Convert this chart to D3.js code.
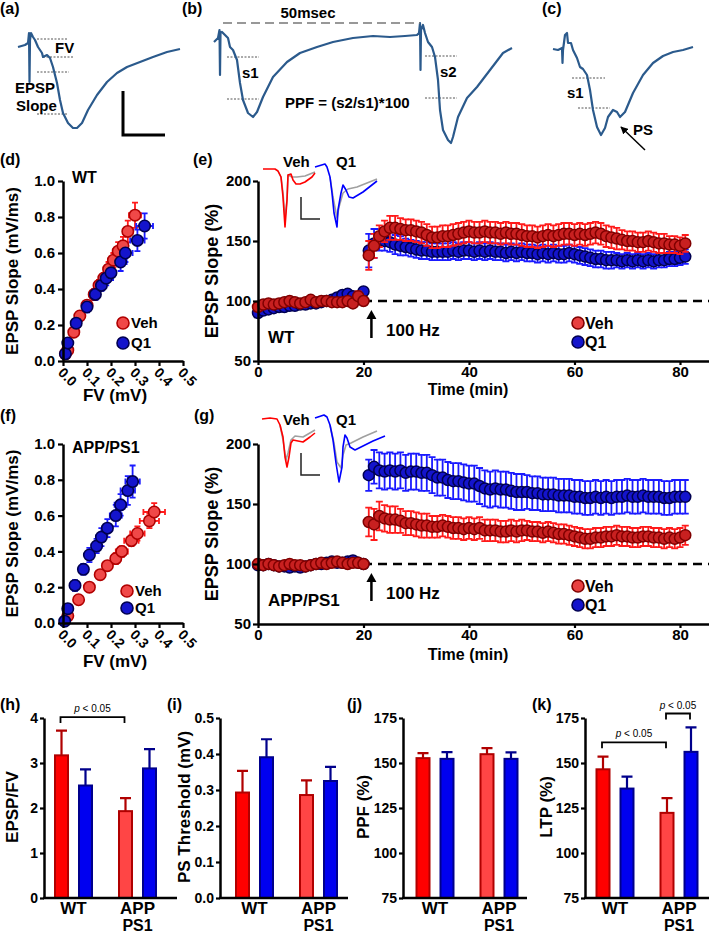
<!DOCTYPE html>
<html><head><meta charset="utf-8">
<script src="https://cdn.jsdelivr.net/npm/d3@7/dist/d3.min.js"></script>
<style>
html,body{margin:0;padding:0;background:#fff;}
svg text{font-family:"Liberation Sans",Arial,Helvetica,sans-serif;font-weight:bold;fill:#000;}
svg text.pval{font-weight:normal;}
</style></head><body>
<svg id="fig" width="709" height="936" viewBox="0 0 709 936"></svg>
<script>
// ================= DATA =================
// Example field-potential traces (time offset, amplitude offset; arbitrary units)
const traceA = [[0,0],[7,2],[10,4],[11,14],[11.5,-35],[12,7],[13,14],[15,10],[17,7],[20,0],[24,-6],[25,-10],[29,-8],[32,-11],[35,-20],[39,-36],[42,-53],[45,-66],[50,-76],[55,-81],[59,-81],[64,-76],[70,-63],[79,-48],[89,-35],[99,-26],[109,-20],[122,-15],[135,-10],[149,-5],[162,-2]];
const traceB = [[0,0],[4,4],[5.5,12],[6,-33],[6.5,9],[8,10],[11,7],[14,4],[16,-5],[19,-8],[23,-18],[26,-41],[29,-58],[34,-71],[39,-75],[43,-70],[49,-55],[59,-35],[73,-20],[86,-11],[103,-5],[119,0],[139,4],[159,6],[176,5],[191,6],[203,7],[205,9],[206,19],[206.5,-28],[207,12],[209,17],[211,9],[214,0],[218,-5],[221,-15],[224,-38],[226,-68],[229,-88],[234,-98],[237,-101],[239,-95],[244,-75],[253,-56],[263,-45],[276,-28],[289,-11],[298,-6]];
const traceC = [[0,0],[5,-1],[9,1],[9.5,-14],[10,-1],[12,14],[14,16],[15,6],[18,6],[20,-1],[24,-9],[27,-18],[30,-20],[34,-26],[37,-41],[40,-61],[44,-78],[48,-86],[52,-79],[55,-68],[60,-61],[64,-63],[67,-68],[72,-63],[80,-44],[90,-26],[100,-14],[110,-7],[120,-3],[130,-1],[140,2]];
// guide lines [t1, t2, amplitude]
const guidesA = [[19,50,8],[25,56,-10],[19,51,-25],[19,50,-67]];
const guidesB = [[13,45,-15],[13,45,-57],[211,243,-14],[211,243,-56]];
const guidesC = [[19,52,-29],[25,57,-59]];

// Inset traces (LTP panels): before (grey) and after (colour)
const insetWT_VehAfter = [[5,0],[17,0],[20,-2],[23,-8],[25,-28],[27,-58],[29,-31],[30,-6],[33,-5],[35,-11],[38,-15],[42,-15],[47,-13],[54,-8],[57,-4]];
const insetWT_VehBefore = [[20,-2],[23,-8],[25,-24],[27,-49],[29,-31],[30,-6],[34,-8],[39,-8],[47,-7],[57,-3]];
const insetWT_Q1After = [[57,2],[67,5],[69,2],[72,-8],[74,-24],[76,-44],[79,-58],[80,-41],[83,-24],[85,-16],[88,-21],[91,-28],[95,-29],[105,-23],[119,-12]];
const insetWT_Q1Before = [[72,-8],[75,-28],[79,-49],[81,-38],[85,-24],[90,-20],[99,-18],[109,-14],[119,-10]];
const insetAPP_VehAfter = [[4,0],[12,1],[19,0],[22,-6],[25,-18],[27,-38],[29,-48],[31,-38],[33,-24],[35,-21],[40,-22],[45,-23],[52,-18],[57,-14]];
const insetAPP_VehBefore = [[22,-6],[25,-21],[28,-41],[30,-34],[33,-21],[37,-17],[45,-18],[57,-11]];
const insetAPP_Q1After = [[57,1],[66,4],[69,2],[72,-6],[75,-21],[78,-44],[81,-63],[84,-48],[85,-28],[87,-16],[89,-19],[92,-28],[97,-31],[105,-27],[115,-22],[127,-17]];
const insetAPP_Q1Before = [[72,-6],[76,-24],[79,-43],[83,-49],[85,-36],[88,-26],[93,-24],[105,-18],[119,-12]];

// Input-output (FV vs EPSP slope)
const wtVehFV   = [0.01,0.02,0.045,0.07,0.10,0.13,0.15,0.17,0.19,0.21,0.23,0.25,0.27,0.30];
const wtVehEPSP = [0.04,0.06,0.16,0.25,0.31,0.37,0.42,0.46,0.51,0.56,0.61,0.64,0.72,0.81];
const wtVehFVerr   = [0.005,0.005,0.01,0.01,0.01,0.015,0.015,0.015,0.02,0.02,0.02,0.02,0.02,0.025];
const wtVehEPSPerr = [0.01,0.01,0.02,0.02,0.02,0.03,0.03,0.03,0.04,0.04,0.05,0.05,0.06,0.07];
const wtQ1FV   = [0.01,0.02,0.055,0.10,0.135,0.16,0.18,0.20,0.24,0.26,0.31,0.34];
const wtQ1EPSP = [0.04,0.10,0.21,0.30,0.37,0.42,0.46,0.49,0.55,0.60,0.67,0.75];
const wtQ1FVerr   = [0.005,0.01,0.01,0.015,0.015,0.02,0.02,0.02,0.025,0.03,0.03,0.035];
const wtQ1EPSPerr = [0.01,0.02,0.02,0.03,0.03,0.03,0.04,0.04,0.05,0.05,0.06,0.07];
const appVehFV   = [0.02,0.065,0.11,0.155,0.185,0.22,0.245,0.285,0.31,0.36,0.38];
const appVehEPSP = [0.04,0.13,0.20,0.27,0.32,0.36,0.40,0.46,0.50,0.57,0.62];
const appVehFVerr   = [0.005,0.01,0.01,0.015,0.02,0.02,0.025,0.03,0.03,0.04,0.045];
const appVehEPSPerr = [0.01,0.01,0.02,0.02,0.02,0.03,0.03,0.03,0.04,0.04,0.05];
const appQ1FV   = [0.007,0.02,0.05,0.085,0.11,0.14,0.16,0.185,0.22,0.24,0.27,0.29];
const appQ1EPSP = [0.01,0.08,0.21,0.30,0.38,0.43,0.48,0.53,0.60,0.66,0.74,0.79];
const appQ1FVerr   = [0.005,0.01,0.01,0.015,0.015,0.02,0.02,0.02,0.025,0.025,0.03,0.03];
const appQ1EPSPerr = [0.01,0.02,0.03,0.03,0.04,0.04,0.05,0.05,0.06,0.06,0.08,0.09];

// LTP time courses (min, %)
const tBase = [0,1,2,3,4,5,6,7,8,9,10,11,12,13,14,15,16,17,18,19,20];
const tPost = [21,22,23,24,25,26,27,28,29,30,31,32,33,34,35,36,37,38,39,40,41,42,43,44,45,46,47,48,49,50,51,52,53,54,55,56,57,58,59,60,61,62,63,64,65,66,67,68,69,70,71,72,73,74,75,76,77,78,79,80,81];
const wtVehBase = [95,97,98,97,98,99,100,99,98,99,101,99,100,100,99,99,99,100,98,104,100];
const wtVehBaseErr = [3,3,2,2,2,2,2,2,2,2,2,2,2,2,2,2,2,2,3,4,3];
const wtQ1Base = [90,92,93,94,95,95,96,96,97,97,98,98,99,100,101,103,105,106,104,103,108];
const wtQ1BaseErr = [3,3,3,3,3,3,2,2,2,2,2,2,2,2,2,2,3,3,3,3,3];
const wtVehPost = [138,146,154,158,161,161,160,159,159,158,157,155, 153,153,154,154,155,156,157,158, 157,157,158,157,157,156,157,156,156,155, 154,154,153,154,155,154,155,156,156,155, 156,155,156,157,156,154,153,152,151,150, 150,149,149,150,149,148,148,147,147,146,148];
const wtVehPostErr = [12,10,9,9,10,10,9,9,9,9,9,9, 9,9,9,9,9,9,9,9, 9,9,9,9,9,9,9,9,9,9, 9,9,9,9,9,9,9,9,9,9, 9,9,9,9,9,9,9,9,8,8, 8,8,8,8,8,8,8,7,7,7,7];
const wtQ1Post = [142,148,151,150,149,147,146,145,144,143,142,142, 141,141,141,141,142,141,142,142, 141,142,141,142,141,141,140,141,140,141, 140,140,139,140,139,140,139,139,140,139, 138,137,136,135,135,134,134,134,133,134, 133,134,133,134,133,134,134,135,135,136,137];
const wtQ1PostErr = [14,12,9,8,8,8,8,7,7,7,7,7, 7,7,7,7,7,7,7,7, 7,7,7,7,7,7,7,7,7,7, 7,7,7,7,7,7,7,7,7,7, 7,7,7,7,7,7,7,6,6,6, 6,6,6,6,6,6,6,6,6,6,6];
const appVehBase = [100,99,100,99,98,99,100,99,99,98,99,100,101,100,101,102,101,100,101,101,100];
const appVehBaseErr = [2,2,2,2,2,2,2,2,2,2,2,2,2,2,2,2,2,2,2,2,2];
const appQ1Base = [99,99,100,99,98,98,97,98,97,98,99,100,100,101,102,101,101,102,103,101,100];
const appQ1BaseErr = [2,2,2,2,2,2,2,2,2,2,2,2,2,2,2,2,2,2,2,2,2];
const appQ1Post = [174,181,178,177,178,177,178,176,177,177,176,176, 174,172,172,170,169,169,168,167, 167,165,163,162,163,162,162,161,160,160, 160,159,159,158,158,158,157,157,157,156, 156,155,155,156,155,156,155,156,156,157, 156,156,157,156,156,156,155,155,156,156,156];
const appQ1PostErr = [13,14,15,15,15,15,15,15,15,15,15,15, 15,15,15,15,15,15,15,15, 15,15,15,15,15,15,15,15,15,15, 14,14,14,14,14,14,14,14,14,14, 14,14,14,14,14,14,14,14,14,14, 14,14,14,14,14,14,14,14,14,14,14];
const appVehPost = [135,133,140,138,137,137,136,134,134,133,132,132, 131,131,132,131,130,130,129,130, 129,130,128,128,128,127,127,128,127,128, 128,127,127,126,127,126,125,125,124,123, 122,121,121,122,122,123,123,124,123,123, 122,122,123,123,122,122,121,122,121,122,124];
const appVehPostErr = [12,13,12,11,11,11,10,10,10,10,10,10, 9,9,9,9,9,9,9,9, 9,9,9,9,9,9,9,9,9,9, 8,8,8,8,8,8,8,8,8,8, 8,8,8,8,8,8,8,8,8,8, 8,8,8,8,8,8,8,8,8,8,8];

// Summary bar charts
const groups = ["WT","APP"];
const treatments = ["Veh","Q1"];
const epspFV = [3.17,2.50,1.93,2.88];      const epspFVErr = [0.55,0.36,0.29,0.43];
const psThr  = [0.293,0.391,0.286,0.325];  const psThrErr  = [0.06,0.05,0.041,0.039];
const ppf    = [152.7,152.3,154.9,152.3];  const ppfErr    = [2.8,3.7,3.4,3.6];
const ltp    = [146.5,135.8,122.3,156.2];  const ltpErr    = [7.0,6.6,8.2,13.6];
const tickH = [0,1,2,3,4];
const tickI = [0,0.1,0.2,0.3,0.4,0.5];
const tickJK = [75,100,125,150,175];
const tickFV = [0,0.1,0.2,0.3,0.4,0.5];
const tickEPSP = [0,0.2,0.4,0.6,0.8,1.0];
const tickPct = [50,100,150,200];
const tickTime = [0,20,40,60,80];

// ================= DRAWING =================
const svg = d3.select("#fig");
const TRACE = "#2b5a8c";
const VEH_FILL="#c82020", VEH_STROKE="#800000", Q1_FILL="#1414cc", Q1_STROKE="#000050";
const VEH_ERR="#ff1a1a", Q1_ERR="#1a1aff";

function text(x,y,s,size,anchor){ return svg.append("text").attr("x",x).attr("y",y).attr("font-size",size).attr("text-anchor",anchor||"start").text(s); }
function vtext(x,y,s,size){ return svg.append("text").attr("transform",`translate(${x},${y}) rotate(-90)`).attr("text-anchor","middle").attr("font-size",size).text(s); }
function styleAxis(g,fs){
  g.attr("font-size",fs).attr("font-family",null);
  g.select(".domain").attr("stroke","#000").attr("stroke-width",2.5);
  g.selectAll(".tick line").attr("stroke","#000").attr("stroke-width",2.2);
  g.selectAll(".tick text").attr("fill","#000");
}

// ---- traces (a)-(c)
function traceScales(x0,y0){
  return {x:d3.scaleLinear().domain([0,100]).range([x0,x0+100]), y:d3.scaleLinear().domain([0,100]).range([y0,y0-100])};
}
function drawTrace(pts,sc,color,w){
  svg.append("path").datum(pts).attr("d",d3.line().x(d=>sc.x(d[0])).y(d=>sc.y(d[1])))
    .attr("fill","none").attr("stroke",color).attr("stroke-width",w).attr("stroke-linejoin","round");
}
function drawGuides(gs,sc){
  gs.forEach(g=>svg.append("line").attr("x1",sc.x(g[0])).attr("x2",sc.x(g[1])).attr("y1",sc.y(g[2])).attr("y2",sc.y(g[2]))
    .attr("stroke","#555").attr("stroke-width",1).attr("stroke-dasharray","2,1.5"));
}
const scA = traceScales(18,47), scB = traceScales(214,42), scC = traceScales(553,49);
drawGuides(guidesA,scA); drawGuides(guidesB,scB); drawGuides(guidesC,scC);
drawTrace(traceA,scA,TRACE,2.2); drawTrace(traceB,scB,TRACE,2.2); drawTrace(traceC,scC,TRACE,2.2);
text(0,14,"(a)",16); text(182,14,"(b)",16); text(542,14,"(c)",16);
text(55,53,"FV",15); text(15,93,"EPSP",15); text(16,111,"Slope",15);
// scale bar (a)
svg.append("path").attr("d",`M${scA.x(105)},${scA.y(-44)}V${scA.y(-88)}H${scA.x(147)}`).attr("fill","none").attr("stroke","#000").attr("stroke-width",3);
// 50 msec dashed
svg.append("line").attr("x1",scB.x(9)).attr("x2",scB.x(206)).attr("y1",23).attr("y2",23).attr("stroke","#777").attr("stroke-width",1.5).attr("stroke-dasharray","9,5");
text(308,18,"50msec",15,"middle");
text(242,78,"s1",15); text(440,77,"s2",15);
text(285,108,"PPF = (s2/s1)*100",15);
text(567,98,"s1",15); text(633,135,"PS",15);
// PS arrow
svg.append("defs").html('<marker id="ah" viewBox="0 0 10 10" refX="9" refY="5" markerWidth="5" markerHeight="5" orient="auto"><path d="M0,0L10,5L0,10z" fill="#000"/></marker>');
svg.append("line").attr("x1",645).attr("y1",150).attr("x2",621).attr("y2",127).attr("stroke","#000").attr("stroke-width",1.5).attr("marker-end","url(#ah)");

// ---- scatter (d),(f)
function scatterPanel(o){
  const x=d3.scaleLinear().domain([0,0.5]).range([63,183]);
  const y=d3.scaleLinear().domain([0,1]).range([o.yb,o.yt]);
  const series=[
    {fv:o.vehFV,ep:o.vehEP,fe:o.vehFE,ee:o.vehEE,fill:"#f04848",stroke:"#b00000",err:VEH_ERR},
    {fv:o.q1FV,ep:o.q1EP,fe:o.q1FE,ee:o.q1EE,fill:Q1_FILL,stroke:Q1_STROKE,err:Q1_ERR}];
  series.forEach(s=>{
    const g=svg.append("g").attr("stroke",s.err).attr("stroke-width",1.8).attr("fill","none");
    s.fv.forEach((f,i)=>{
      const cx=x(f), cy=y(s.ep[i]), x1=x(f-s.fe[i]), x2=x(f+s.fe[i]), y1=y(s.ep[i]-s.ee[i]), y2=y(s.ep[i]+s.ee[i]);
      g.append("path").attr("d",`M${x1},${cy}H${x2}M${x1},${cy-3}V${cy+3}M${x2},${cy-3}V${cy+3}M${cx},${y1}V${y2}M${cx-3},${y1}H${cx+3}M${cx-3},${y2}H${cx+3}`);
    });
  });
  series.forEach(s=>{
    svg.append("g").selectAll("circle").data(s.fv).join("circle")
      .attr("cx",d=>x(d)).attr("cy",(d,i)=>y(s.ep[i])).attr("r",5.7)
      .attr("fill",s.fill).attr("stroke",s.stroke).attr("stroke-width",1.6);
  });
  const ya=svg.append("g").attr("transform","translate(63,0)")
    .call(d3.axisLeft(y).tickValues(tickEPSP).tickFormat(d3.format(".1f")).tickSize(5).tickSizeOuter(0).tickPadding(3));
  styleAxis(ya,15);
  const xa=svg.append("g").attr("transform",`translate(0,${o.yb})`)
    .call(d3.axisBottom(x).tickValues(tickFV).tickFormat(d3.format(".1f")).tickSize(5).tickSizeOuter(0));
  styleAxis(xa,14);
  xa.selectAll(".tick text").attr("y",0).attr("dy","0.35em").attr("text-anchor","middle").attr("transform","translate(4,16) rotate(45)");
  text(115,o.yb+o.titleOff,"FV (mV)",17,"middle");
  vtext(18,(o.yb+o.yt)/2,"EPSP Slope (mV/ms)",17);
  text(72,o.yt+o.nameOff,o.name,16);
  // legend
  svg.append("circle").attr("cx",o.lx).attr("cy",o.ly1).attr("r",6).attr("fill","#f04848").attr("stroke","#b00000").attr("stroke-width",1.6);
  svg.append("circle").attr("cx",o.lx).attr("cy",o.ly2).attr("r",6).attr("fill",Q1_FILL).attr("stroke",Q1_STROKE).attr("stroke-width",1.6);
  text(o.lx+8,o.ly1+5,"Veh",15); text(o.lx+8,o.ly2+5,"Q1",15);
}
scatterPanel({yb:361,yt:181,vehFV:wtVehFV,vehEP:wtVehEPSP,vehFE:wtVehFVerr,vehEE:wtVehEPSPerr,
  q1FV:wtQ1FV,q1EP:wtQ1EPSP,q1FE:wtQ1FVerr,q1EE:wtQ1EPSPerr,name:"WT",nameOff:2,titleOff:40,lx:123,ly1:323,ly2:343});
scatterPanel({yb:623,yt:444,vehFV:appVehFV,vehEP:appVehEPSP,vehFE:appVehFVerr,vehEE:appVehEPSPerr,
  q1FV:appQ1FV,q1EP:appQ1EPSP,q1FE:appQ1FVerr,q1EE:appQ1EPSPerr,name:"APP/PS1",nameOff:9,titleOff:44,lx:127,ly1:591,ly2:608});
text(0,165,"(d)",16); text(193,165,"(e)",16); text(0,421,"(f)",16); text(194,421,"(g)",16);

// ---- time courses (e),(g)
function timePanel(o){
  const x=d3.scaleLinear().domain([0,85.5]).range([258,709]);
  const y=d3.scaleLinear().domain([50,200]).range([o.yb,o.yt]);
  svg.append("line").attr("x1",x(0)).attr("x2",x(85.5)).attr("y1",y(100)).attr("y2",y(100))
    .attr("stroke","#000").attr("stroke-width",2.5).attr("stroke-dasharray","9,6");
  const t=tBase.concat(tPost);
  const series=[
    {v:o.q1Base.concat(o.q1Post),e:o.q1BaseErr.concat(o.q1PostErr),fill:Q1_FILL,stroke:Q1_STROKE,err:Q1_ERR},
    {v:o.vehBase.concat(o.vehPost),e:o.vehBaseErr.concat(o.vehPostErr),fill:VEH_FILL,stroke:VEH_STROKE,err:VEH_ERR}];
  series.forEach(s=>{
    const g=svg.append("g").attr("stroke",s.err).attr("stroke-width",1.8).attr("fill","none");
    t.forEach((tt,i)=>{
      const cx=x(tt), y1=y(s.v[i]-s.e[i]), y2=y(s.v[i]+s.e[i]);
      g.append("path").attr("d",`M${cx},${y1}V${y2}M${cx-3.5},${y1}H${cx+3.5}M${cx-3.5},${y2}H${cx+3.5}`);
    });
    svg.append("g").selectAll("circle").data(t).join("circle")
      .attr("cx",d=>x(d)).attr("cy",(d,i)=>y(s.v[i])).attr("r",5.5)
      .attr("fill",s.fill).attr("stroke",s.stroke).attr("stroke-width",1.5);
  });
  const ya=svg.append("g").attr("transform","translate(258,0)")
    .call(d3.axisLeft(y).tickValues(tickPct).tickSize(5).tickSizeOuter(0).tickPadding(2));
  styleAxis(ya,15);
  const xa=svg.append("g").attr("transform",`translate(0,${o.yb})`)
    .call(d3.axisBottom(x).tickValues(tickTime).tickSize(4).tickSizeOuter(0).tickPadding(1));
  styleAxis(xa,15);
  text(468,o.yb+o.titleOff,"Time (min)",16,"middle");
  vtext(218,(o.yb+o.yt)/2,"EPSP Slope (%)",18);
  text(268,o.yb-18,o.name,17);
  // 100 Hz arrow
  const ax=x(21.5);
  svg.append("path").attr("d",`M${ax},${o.yb-23}V${o.yb-44}`).attr("stroke","#000").attr("stroke-width",2.5);
  svg.append("path").attr("d",`M${ax-5},${o.yb-42}L${ax},${o.yb-51}L${ax+5},${o.yb-42}Z`).attr("fill","#000");
  text(386,o.yb-25,"100 Hz",17);
  // legend
  svg.append("circle").attr("cx",578).attr("cy",o.yb-38).attr("r",6).attr("fill","#e84040").attr("stroke",VEH_STROKE).attr("stroke-width",1.6);
  svg.append("circle").attr("cx",578).attr("cy",o.yb-19).attr("r",6).attr("fill",Q1_FILL).attr("stroke",Q1_STROKE).attr("stroke-width",1.6);
  text(585,o.yb-32,"Veh",16); text(585,o.yb-13,"Q1",16);
  // inset traces
  const sc=traceScales(258,o.insetY);
  drawTrace(o.vB,sc,"#a0a0a0",1.6); drawTrace(o.vA,sc,"#ff0000",1.6);
  drawTrace(o.qB,sc,"#a0a0a0",1.6); drawTrace(o.qA,sc,"#0000ff",1.6);
  text(283,o.insetY+o.labOff,"Veh",15); text(336,o.insetY+o.labOff,"Q1",15);
  svg.append("path").attr("d",`M${sc.x(43)},${o.insetY+o.sbTop}V${o.insetY+o.sbTop+22}H${sc.x(62)}`).attr("fill","none").attr("stroke","#222").attr("stroke-width",1.5);
}
timePanel({yb:361,yt:181,name:"WT",titleOff:34,
  vehBase:wtVehBase,vehBaseErr:wtVehBaseErr,vehPost:wtVehPost,vehPostErr:wtVehPostErr,
  q1Base:wtQ1Base,q1BaseErr:wtQ1BaseErr,q1Post:wtQ1Post,q1PostErr:wtQ1PostErr,
  insetY:169,labOff:-2,sbTop:28,vA:insetWT_VehAfter,vB:insetWT_VehBefore,qA:insetWT_Q1After,qB:insetWT_Q1Before});
timePanel({yb:624,yt:444,name:"APP/PS1",titleOff:36,
  vehBase:appVehBase,vehBaseErr:appVehBaseErr,vehPost:appVehPost,vehPostErr:appVehPostErr,
  q1Base:appQ1Base,q1BaseErr:appQ1BaseErr,q1Post:appQ1Post,q1PostErr:appQ1PostErr,
  insetY:419,labOff:6,sbTop:34,vA:insetAPP_VehAfter,vB:insetAPP_VehBefore,qA:insetAPP_Q1After,qB:insetAPP_Q1Before});

// ---- bar charts (h)-(k)
const barFill=["#ff0000","#0000f0","#ff4545","#0000f0"];
const barStroke=["#b00000","#00008b","#b00000","#00008b"];
function pText(x,y){
  const t=svg.append("text").attr("class","pval").attr("x",x).attr("y",y).attr("font-size",10).attr("text-anchor","middle");
  t.append("tspan").attr("font-style","italic").text("p");
  t.append("tspan").text(" < 0.05");
}
function barPanel(o){
  const y=d3.scaleLinear().domain(o.domain).range([898,718]);
  const gx=d3.scaleBand().domain(groups).range([o.ax+o.off-32,o.ax+o.off+96]).padding(0);
  const bx=d3.scalePoint().domain(treatments).range([-12,12]);
  const cxs=[];
  groups.forEach((g,gi)=>treatments.forEach((tr,ti)=>cxs.push(gx(g)+gx.bandwidth()/2+bx(tr))));
  o.vals.forEach((v,i)=>{
    const cx=cxs[i], yt=y(v), ye=y(v+o.errs[i]);
    svg.append("path").attr("d",`M${cx},${yt}V${ye}M${cx-5.5},${ye}H${cx+5.5}`).attr("stroke",barStroke[i]).attr("stroke-width",2.2).attr("fill","none");
    svg.append("rect").attr("x",cx-6.5).attr("width",13).attr("y",yt).attr("height",898-yt)
      .attr("fill",barFill[i]).attr("stroke",barStroke[i]).attr("stroke-width",2);
  });
  const ya=svg.append("g").attr("transform",`translate(${o.ax},0)`)
    .call(d3.axisLeft(y).tickValues(o.ticks).tickFormat(o.fmt).tickSize(4).tickSizeOuter(0).tickPadding(2));
  styleAxis(ya,14);
  svg.append("line").attr("x1",o.ax-1).attr("x2",o.end).attr("y1",898).attr("y2",898).attr("stroke","#000").attr("stroke-width",2.5);
  groups.forEach((g,gi)=>text(gx(g)+gx.bandwidth()/2,914,g,17,"middle"));
  text(gx("APP")+gx.bandwidth()/2,931,"PS1",16,"middle");
  vtext(o.titleX,807,o.title,17);
  text(o.labelX,710,o.label,16);
  (o.brackets||[]).forEach(b=>{
    const x1=cxs[b[0]]-1, x2=cxs[b[1]]-1, yy=y(b[2]);
    svg.append("path").attr("d",`M${x1},${yy+6}V${yy}H${x2}V${yy+6}`).attr("fill","none").attr("stroke","#000").attr("stroke-width",1.8);
    pText((x1+x2)/2,yy-5);
  });
}
barPanel({ax:44,end:177,off:29.5,domain:[0,4],ticks:tickH,fmt:d3.format("d"),vals:epspFV,errs:epspFVErr,title:"EPSP/FV",titleX:18,label:"(h)",labelX:0,brackets:[[0,2,4.02]]});
barPanel({ax:220,end:348,off:34.5,domain:[0,0.5],ticks:tickI,fmt:d3.format(".1f"),vals:psThr,errs:psThrErr,title:"PS Threshold (mV)",titleX:190,label:"(i)",labelX:167});
barPanel({ax:403,end:527,off:32,domain:[75,175],ticks:tickJK,fmt:d3.format("d"),vals:ppf,errs:ppfErr,title:"PPF (%)",titleX:369,label:"(j)",labelX:347});
barPanel({ax:585,end:709,off:30,domain:[75,175],ticks:tickJK,fmt:d3.format("d"),vals:ltp,errs:ltpErr,title:"LTP (%)",titleX:552,label:"(k)",labelX:532,brackets:[[0,2,161.5],[2,3,177.5]]});
</script></body></html>
